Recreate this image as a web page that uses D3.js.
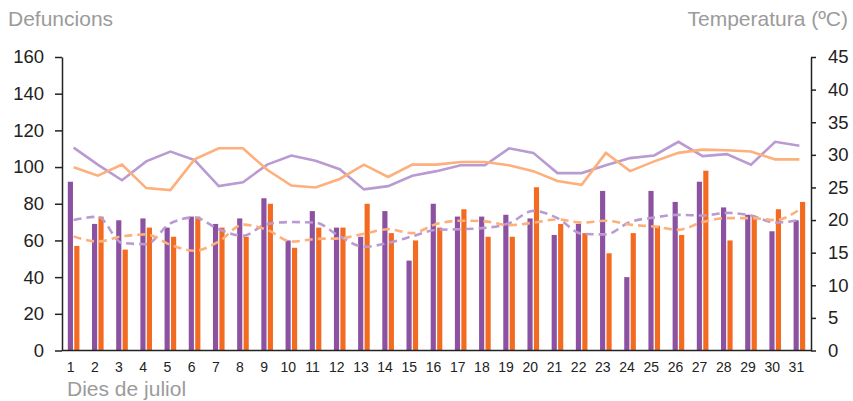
<!DOCTYPE html>
<html>
   <head>
      <script src="https://d3js.org/d3.v7.min.js"></script>
   </head>

   <style>
      body {
         margin: 0;
         background: #fff;
      }

      svg text {
         font-family: "Liberation Sans", Arial, sans-serif;
      }

      .axis path, .axis line {
         stroke: #222;
         stroke-width: 1.5;
      }

      .axis-title {
         fill: #9b9b9b;
         font-size: 21px;
      }
   </style>
   <body>
      <svg id="chart" width="853" height="401"></svg>

      <script>
         let days = [1, 2, 3, 4, 5, 6, 7, 8, 9, 10, 11, 12, 13, 14, 15, 16,
                     17, 18, 19, 20, 21, 22, 23, 24, 25, 26, 27, 28, 29, 30, 31];

         // deaths (left axis)
         let deathsPurple = [92, 69, 71, 72, 67, 73, 69, 72, 83, 60, 76, 67, 62, 76, 49, 80,
                             73, 73, 74, 72, 63, 69, 87, 40, 87, 81, 92, 78, 74, 65, 71];
         let deathsOrange = [57, 73, 55, 67, 62, 73, 67, 62, 80, 56, 67, 67, 80, 64, 60, 67,
                             77, 62, 62, 89, 69, 64, 53, 64, 68, 63, 98, 60, 73, 77, 81];

         // temperatures (right axis)
         let tempMaxPurple = [31.1, 28.5, 26.1, 29.0, 30.5, 29.2, 25.2, 25.8, 28.5, 29.9, 29.1, 27.8, 24.7, 25.2, 26.8, 27.5,
                              28.4, 28.4, 31.0, 30.3, 27.2, 27.2, 28.4, 29.5, 29.9, 32.0, 29.8, 30.1, 28.5, 32.0, 31.4];
         let tempMaxOrange = [28.1, 26.8, 28.5, 24.9, 24.6, 29.3, 31.0, 31.0, 27.7, 25.3, 25.0, 26.3, 28.5, 26.6, 28.5, 28.5,
                              28.9, 28.9, 28.4, 27.5, 26.0, 25.4, 30.3, 27.5, 29.0, 30.3, 30.8, 30.7, 30.5, 29.3, 29.3];
         let tempMinPurple = [20.0, 20.5, 16.5, 16.3, 19.5, 20.4, 18.6, 17.6, 19.4, 19.7, 19.6, 17.5, 15.9, 16.5, 17.5, 18.5,
                              18.6, 18.8, 19.5, 21.4, 20.3, 17.9, 17.8, 19.7, 20.4, 20.8, 20.7, 21.1, 20.7, 19.6, 20.0];
         let tempMinOrange = [17.5, 16.7, 17.5, 17.8, 16.2, 15.3, 16.7, 19.3, 18.5, 16.7, 17.1, 17.2, 17.9, 18.6, 18.0, 19.4,
                              19.9, 19.8, 19.2, 19.6, 20.1, 19.6, 19.9, 19.3, 19.0, 18.5, 19.7, 20.3, 20.3, 20.0, 21.6];

         let leftTicks = [0, 20, 40, 60, 80, 100, 120, 140, 160];
         let rightTicks = [0, 5, 10, 15, 20, 25, 30, 35, 40, 45];

         let purple = '#8c52a1';
         let orange = '#f26b21';
         let lightPurple = '#b99bd2';
         let lightOrange = '#fdaf7c';

         let svg = d3.select('#chart');

         let plotLeft = 62, plotRight = 811, plotTop = 57, plotBottom = 350.5;

         let x = d3.scaleBand().domain(days).range([plotLeft, plotRight])
            .paddingInner(0.52).paddingOuter(0.24);
         let xSub = d3.scaleBand().domain(['p', 'o']).range([0, x.bandwidth()]).paddingInner(0.2);

         let yLeft = d3.scaleLinear().domain([0, 160]).range([plotBottom, plotTop]);
         let yRight = d3.scaleLinear().domain([0, 45]).range([plotBottom, plotTop]);

         // bars
         let groups = svg.append('g').selectAll('g')
            .data(days)
            .enter()
            .append('g')
            .attr('transform', (d) => `translate(${x(d)}, 0)`);

         groups.append('rect')
            .attr('x', xSub('p'))
            .attr('width', xSub.bandwidth())
            .attr('y', (d, i) => yLeft(deathsPurple[i]))
            .attr('height', (d, i) => plotBottom - yLeft(deathsPurple[i]))
            .attr('fill', purple);

         groups.append('rect')
            .attr('x', xSub('o'))
            .attr('width', xSub.bandwidth())
            .attr('y', (d, i) => yLeft(deathsOrange[i]))
            .attr('height', (d, i) => plotBottom - yLeft(deathsOrange[i]))
            .attr('fill', orange);

         // temperature lines
         let cx = (i) => x(days[i]) + x.bandwidth() / 2;

         let straight = d3.line().x((d, i) => cx(i)).y((d) => yRight(d));
         let smooth = d3.line().x((d, i) => cx(i)).y((d) => yRight(d)).curve(d3.curveMonotoneX);

         let lines = [
            {values: tempMaxPurple, color: lightPurple, gen: straight, dash: null},
            {values: tempMaxOrange, color: lightOrange, gen: straight, dash: null},
            {values: tempMinPurple, color: lightPurple, gen: smooth, dash: '8,5'},
            {values: tempMinOrange, color: lightOrange, gen: smooth, dash: '8,5'},
         ];

         svg.append('g').selectAll('path')
            .data(lines)
            .enter()
            .append('path')
            .attr('d', (d) => d.gen(d.values))
            .attr('fill', 'none')
            .attr('stroke', (d) => d.color)
            .attr('stroke-width', 2.6)
            .attr('stroke-dasharray', (d) => d.dash);

         // axes
         let leftAxis = svg.append('g')
            .attr('class', 'axis')
            .attr('transform', `translate(${plotLeft}, 0)`)
            .call(d3.axisLeft(yLeft).tickValues(leftTicks).tickSize(7).tickSizeOuter(0).tickPadding(11));

         let rightAxis = svg.append('g')
            .attr('class', 'axis')
            .attr('transform', `translate(${plotRight}, 0)`)
            .call(d3.axisRight(yRight).tickValues(rightTicks).tickSize(5).tickSizeOuter(0).tickPadding(12));

         [leftAxis, rightAxis].forEach((a) => {
            a.selectAll('text').attr('font-size', 18.5).attr('fill', '#222');
         });

         let bottomAxis = svg.append('g')
            .attr('class', 'axis')
            .attr('transform', `translate(0, ${plotBottom})`)
            .call(d3.axisBottom(x).tickSize(0).tickSizeOuter(0).tickPadding(12));

         bottomAxis.select('.domain').attr('d', `M${plotLeft},0H${plotRight}`);
         bottomAxis.selectAll('text')
            .attr('font-size', 14)
            .attr('fill', '#222')
            .attr('dx', -3);

         // titles
         svg.append('text').attr('class', 'axis-title')
            .attr('x', 8).attr('y', 26).text('Defuncions');

         svg.append('text').attr('class', 'axis-title')
            .attr('x', 848).attr('y', 26).attr('text-anchor', 'end').text('Temperatura (ºC)');

         svg.append('text').attr('class', 'axis-title')
            .attr('x', 67).attr('y', 396).text('Dies de juliol');
      </script>
</body>
</html>
